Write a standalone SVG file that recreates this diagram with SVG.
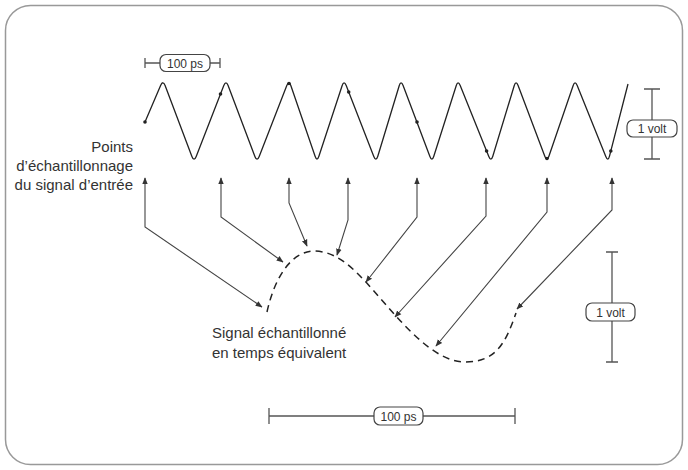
<svg xmlns="http://www.w3.org/2000/svg" width="688" height="470" viewBox="0 0 688 470">
<defs>
<style>
.txt{font-family:"Liberation Sans",Arial,sans-serif;font-size:15px;fill:#333}
.lbl{font-family:"Liberation Sans",Arial,sans-serif;font-size:12px;fill:#333;text-anchor:middle}
.wave{fill:none;stroke:#222;stroke-width:1.3;stroke-linejoin:round}
.dot{fill:#222}
.arr{fill:none;stroke:#444;stroke-width:1.1;marker-start:url(#ah);marker-end:url(#ah)}
.scale{fill:none;stroke:#555;stroke-width:1.3}
.box{fill:#fff;stroke:#444;stroke-width:1.2}
.dash{fill:none;stroke:#222;stroke-width:1.5;stroke-dasharray:7 5}
</style>
<marker id="ah" viewBox="0 0 10 10" refX="9" refY="5" markerWidth="7" markerHeight="7" markerUnits="userSpaceOnUse" orient="auto-start-reverse">
<path d="M0,1 L10,5 L0,9 Z" fill="#333"/>
</marker>
</defs>
<rect x="5.5" y="5.5" width="677" height="459" rx="25" ry="25" fill="#fff" stroke="#999" stroke-width="1.5"/>

<g id="input-signal">
<path class="wave" d="M145,122 L160.6,85.5 Q163,80 165.1,85.6 L191.9,156.4 Q194,162 196.2,156.4 L223.8,85.6 Q226,80 228.1,85.6 L254.9,156.4 Q257,162 259.2,156.4 L286.8,85.6 Q289,80 290.9,85.7 L315.1,156.3 Q317,162 318.9,156.3 L342.1,85.7 Q344,80 346.2,85.6 L373.8,156.4 Q376,162 377.8,156.3 L399.2,85.7 Q401,80 403.1,85.6 L429.9,156.4 Q432,162 433.8,156.3 L456.2,85.7 Q458,80 460.2,85.6 L488.8,156.4 Q491,162 492.8,156.3 L514.2,85.7 Q516,80 518.1,85.6 L544.9,156.4 Q547,162 548.9,156.3 L573.1,85.7 Q575,80 577.2,85.6 L605.8,156.4 Q608,162 609.5,156.2 L628,84"/>
<circle class="dot" cx="145" cy="122" r="1.8"/>
<circle class="dot" cx="220.5" cy="94" r="1.8"/>
<circle class="dot" cx="289" cy="83.5" r="1.8"/>
<circle class="dot" cx="348.7" cy="92" r="1.8"/>
<circle class="dot" cx="417" cy="122" r="1.8"/>
<circle class="dot" cx="486.6" cy="151" r="1.8"/>
<circle class="dot" cx="547" cy="158.5" r="1.8"/>
<circle class="dot" cx="610.8" cy="151" r="1.8"/>
</g>

<g id="sampled-signal">
<path class="dash" d="M267,312 C274,280 290,251 315,251 C345,252 365,282 395,315 C415,337 440,362 465,362 C495,362 505,345 516,313"/>
</g>

<g id="connectors">
<path class="arr" d="M262,307 L145,227 L145,178"/>
<path class="arr" d="M283,262 L221,217 L221,178"/>
<path class="arr" d="M307,246 L289,203 L289,178"/>
<path class="arr" d="M337,255 L348,220 L348,178"/>
<path class="arr" d="M366,282 L417,217 L417,178"/>
<path class="arr" d="M395,317 L486,216 L486,178"/>
<path class="arr" d="M436,346 L547,212 L547,178"/>
<path class="arr" d="M517,309 L612,210 L612,178"/>
</g>

<g id="label-points">
<text class="txt" x="133" y="152" text-anchor="end">Points</text>
<text class="txt" x="133" y="171" text-anchor="end">d’échantillonnage</text>
<text class="txt" x="133" y="190" text-anchor="end">du signal d’entrée</text>
</g>

<g id="label-signal">
<text class="txt" x="212" y="338">Signal échantillonné</text>
<text class="txt" x="212" y="358">en temps équivalent</text>
</g>

<g id="scale-top-time">
<path class="scale" d="M145,63 H220 M145,58 V68 M220,58 V68"/>
<rect class="box" x="160" y="54.5" width="50" height="17" rx="6"/>
<text class="lbl" x="185" y="67.5">100 ps</text>
</g>

<g id="scale-top-volt">
<path class="scale" d="M652,89 V159 M644,89 H660 M644,159 H660"/>
<rect class="box" x="627" y="120" width="50" height="17" rx="6"/>
<text class="lbl" x="652" y="133">1 volt</text>
</g>

<g id="scale-bottom-volt">
<path class="scale" d="M612,252 V362 M606,252 H618 M606,362 H618"/>
<rect class="box" x="586" y="303" width="49" height="18" rx="6"/>
<text class="lbl" x="610.5" y="316.5">1 volt</text>
</g>

<g id="scale-bottom-time">
<path class="scale" d="M269,416 H515 M269,408 V424 M515,408 V424"/>
<rect class="box" x="374" y="407" width="49" height="18" rx="6"/>
<text class="lbl" x="398.5" y="420.5">100 ps</text>
</g>
</svg>
